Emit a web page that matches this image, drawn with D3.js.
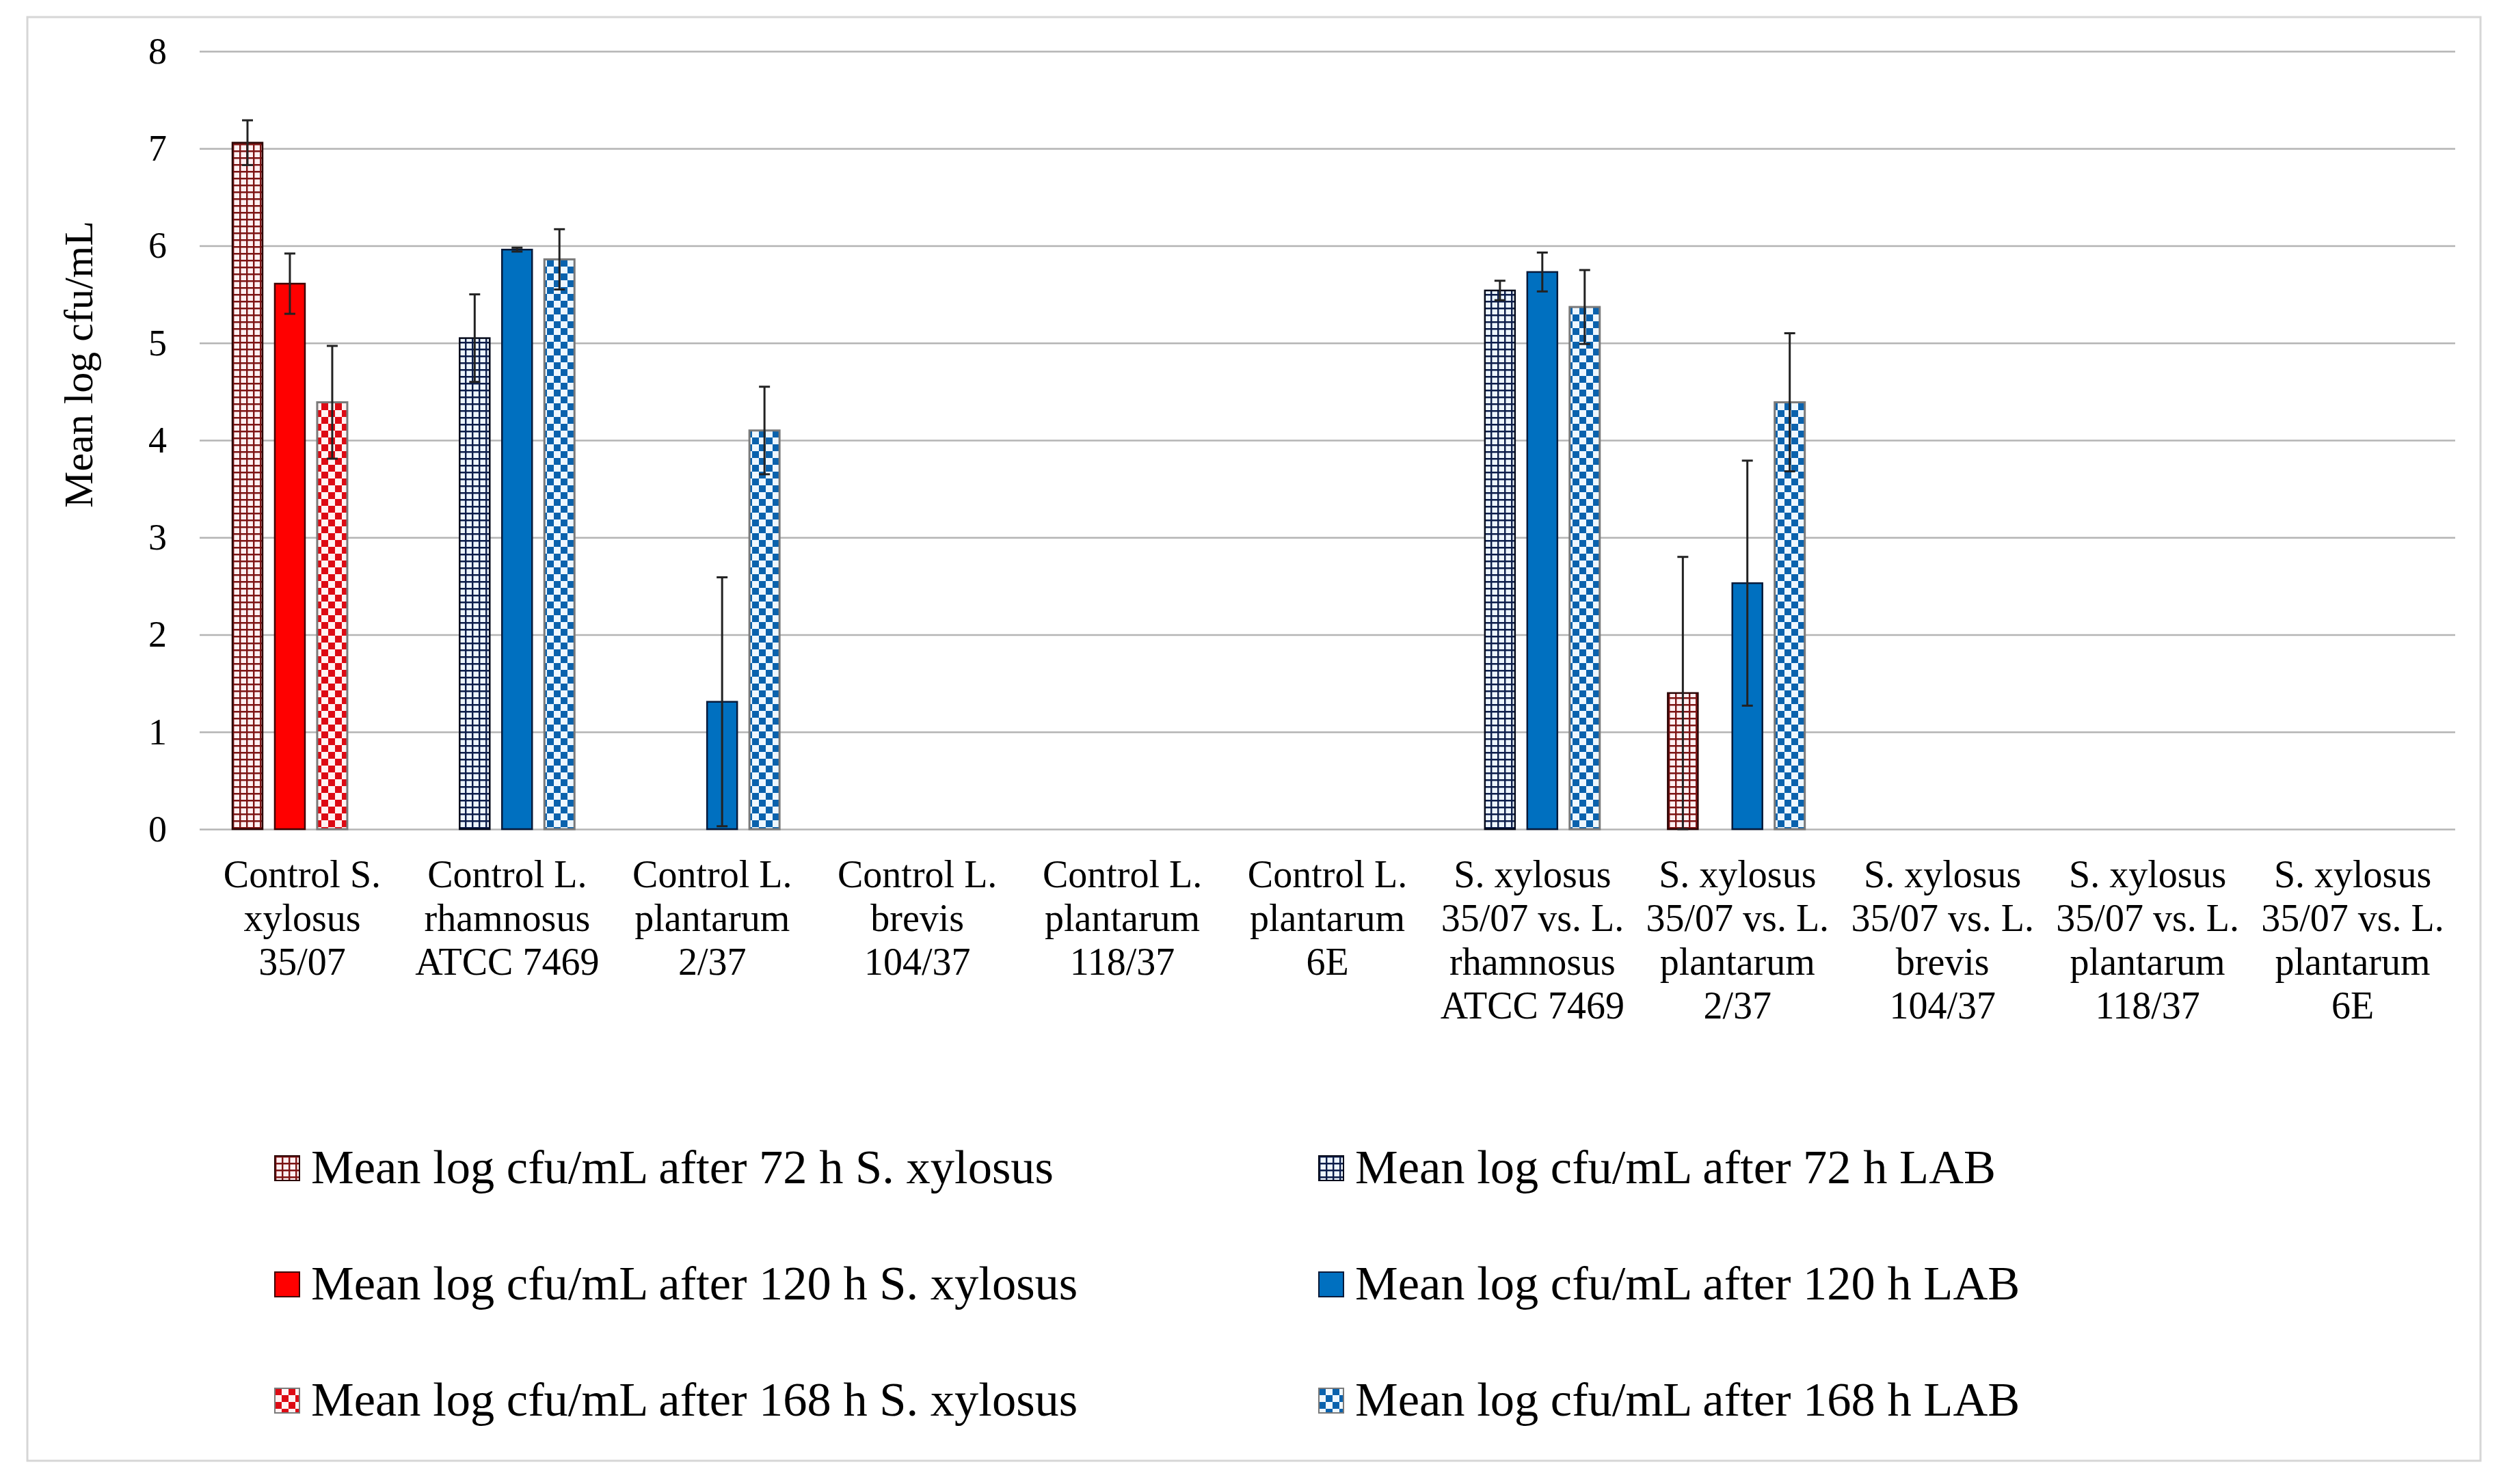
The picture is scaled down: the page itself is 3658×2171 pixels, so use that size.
<!DOCTYPE html>
<html>
<head>
<meta charset="utf-8">
<script src="https://cdn.jsdelivr.net/npm/d3@7"></script>
<style>
    body { margin: 0; background: #fff; }
    svg { display: block; }
    text { font-family: "Liberation Serif", "Times New Roman", serif; fill: #000; }
</style>
</head>
<body>
<div id="chart"></div>
<script>
// categories (one entry per line of the tick label)
var categories = [
    ['Control S.', 'xylosus', '35/07'],
    ['Control L.', 'rhamnosus', 'ATCC 7469'],
    ['Control L.', 'plantarum', '2/37'],
    ['Control L.', 'brevis', '104/37'],
    ['Control L.', 'plantarum', '118/37'],
    ['Control L.', 'plantarum', '6E'],
    ['S. xylosus', '35/07 vs. L.', 'rhamnosus', 'ATCC 7469'],
    ['S. xylosus', '35/07 vs. L.', 'plantarum', '2/37'],
    ['S. xylosus', '35/07 vs. L.', 'brevis', '104/37'],
    ['S. xylosus', '35/07 vs. L.', 'plantarum', '118/37'],
    ['S. xylosus', '35/07 vs. L.', 'plantarum', '6E']
]
var times = ['72 h', '120 h', '168 h']
var yTicks = [0, 1, 2, 3, 4, 5, 6, 7, 8]

// S. xylosus counts
var sx72 = [7.06, null, null, null, null, null, null, 1.40, null, null, null]
var sx72Err = [0.23, null, null, null, null, null, null, 1.40, null, null, null]
var sx120 = [5.61, null, null, null, null, null, null, null, null, null, null]
var sx120Err = [0.31, null, null, null, null, null, null, null, null, null, null]
var sx168 = [4.39, null, null, null, null, null, null, null, null, null, null]
var sx168Err = [0.58, null, null, null, null, null, null, null, null, null, null]

// LAB counts
var lab72 = [null, 5.05, null, null, null, null, 5.54, null, null, null, null]
var lab72Err = [null, 0.45, null, null, null, null, 0.10, null, null, null, null]
var lab120 = [null, 5.96, 1.31, null, null, null, 5.73, 2.53, null, null, null]
var lab120Err = [null, 0.02, 1.28, null, null, null, 0.20, 1.26, null, null, null]
var lab168 = [null, 5.86, 4.10, null, null, null, 5.37, 4.39, null, null, null]
var lab168Err = [null, 0.31, 0.45, null, null, null, 0.38, 0.71, null, null, null]

var legendLabels = [
    'Mean log cfu/mL after 72 h S. xylosus',
    'Mean log cfu/mL after 120 h S. xylosus',
    'Mean log cfu/mL after 168 h S. xylosus',
    'Mean log cfu/mL after 72 h LAB',
    'Mean log cfu/mL after 120 h LAB',
    'Mean log cfu/mL after 168 h LAB'
]

var series = [
    { name: legendLabels[0], org: 'sx', time: times[0], values: sx72, errors: sx72Err, fill: 'url(#gridRed)', stroke: '#2a0404', sw: 2.5 },
    { name: legendLabels[1], org: 'sx', time: times[1], values: sx120, errors: sx120Err, fill: '#ff0000', stroke: '#3d0000', sw: 2.5 },
    { name: legendLabels[2], org: 'sx', time: times[2], values: sx168, errors: sx168Err, fill: 'url(#checkRed)', stroke: '#7a7a7a', sw: 3 },
    { name: legendLabels[3], org: 'lab', time: times[0], values: lab72, errors: lab72Err, fill: 'url(#gridBlue)', stroke: '#050a1a', sw: 2.5 },
    { name: legendLabels[4], org: 'lab', time: times[1], values: lab120, errors: lab120Err, fill: '#0070c0', stroke: '#071a3a', sw: 2.5 },
    { name: legendLabels[5], org: 'lab', time: times[2], values: lab168, errors: lab168Err, fill: 'url(#checkBlue)', stroke: '#7a7a7a', sw: 3 }
]

var W = 3658,
    H = 2171,
    plotLeft = 292,
    plotRight = 3591,
    plotTop = 75,
    plotBottom = 1213

var svg = d3.select('#chart').append('svg').attr('width', W).attr('height', H)

// узоры заливки
var defs = svg.append('defs')
function addGrid(id, bg, line) {
    var p = defs.append('pattern').attr('id', id)
        .attr('patternUnits', 'userSpaceOnUse').attr('width', 10).attr('height', 10)
    p.append('rect').attr('width', 10).attr('height', 10).attr('fill', bg)
    p.append('path').attr('d', 'M0,1.2H10M1.2,0V10')
        .attr('stroke', line).attr('stroke-width', 2.4)
}
function addChecker(id, bg, sq) {
    var p = defs.append('pattern').attr('id', id)
        .attr('patternUnits', 'userSpaceOnUse').attr('width', 20).attr('height', 20)
    p.append('rect').attr('width', 20).attr('height', 20).attr('fill', bg)
    p.append('rect').attr('width', 10).attr('height', 10).attr('fill', sq)
    p.append('rect').attr('x', 10).attr('y', 10).attr('width', 10).attr('height', 10).attr('fill', sq)
}
addGrid('gridRed', '#fff0f2', '#7d1414')
addGrid('gridBlue', '#edf6ff', '#0c1d4a')
addChecker('checkRed', '#fff2f3', '#dd0a14')
addChecker('checkBlue', '#eef7ff', '#0a62ad')

// рамка
svg.append('rect')
    .attr('x', 40).attr('y', 25)
    .attr('width', 3588).attr('height', 2112)
    .attr('fill', 'none').attr('stroke', '#d6d6d6').attr('stroke-width', 3)

var x0 = d3.scaleBand().domain(d3.range(categories.length)).range([plotLeft, plotRight])
var xSub = d3.scaleBand().domain(times).range([0, x0.bandwidth() * 0.56]).paddingInner(0.29)
var shift = { sx: 0.16, lab: 0.268 }
var y = d3.scaleLinear().domain([0, 8]).range([plotBottom, plotTop])

// ось Y и сетка
var yAxis = svg.append('g')
    .attr('transform', 'translate(' + plotLeft + ',0)')
    .call(d3.axisLeft(y).tickValues(yTicks).tickSize(-(plotRight - plotLeft)).tickPadding(48))
yAxis.select('.domain').remove()
yAxis.selectAll('.tick line').attr('stroke', '#b4b4b4').attr('stroke-width', 2.5)
yAxis.selectAll('.tick text')
    .style('font-family', '"Liberation Serif", "Times New Roman", serif')
    .style('font-size', '54px').attr('fill', '#000')

svg.append('text')
    .attr('transform', 'translate(135,533) rotate(-90)')
    .attr('text-anchor', 'middle')
    .style('font-size', '60px')
    .text('Mean log cfu/mL')

// подписи категорий
var catLabels = svg.selectAll('text.cat')
    .data(categories)
    .enter()
    .append('text')
    .attr('class', 'cat')
    .attr('text-anchor', 'middle')
    .attr('y', 1298)
    .style('font-size', '56px')
catLabels.each(function (lines, i) {
    var cx = x0(i) + x0.bandwidth() / 2
    d3.select(this).selectAll('tspan')
        .data(lines)
        .enter()
        .append('tspan')
        .attr('x', cx)
        .attr('dy', function (d, j) { return j === 0 ? 0 : 64 })
        .text(function (d) { return d })
})

function barX(s, i) {
    return x0(i) + x0.bandwidth() * shift[s.org] + xSub(s.time)
}

// столбцы
series.forEach(function (s) {
    var pts = s.values
        .map(function (v, i) { return { i: i, v: v, e: s.errors[i] } })
        .filter(function (d) { return d.v !== null })

    svg.append('g').selectAll('rect')
        .data(pts)
        .enter()
        .append('rect')
        .attr('x', function (d) { return barX(s, d.i) })
        .attr('y', function (d) { return y(d.v) })
        .attr('width', xSub.bandwidth())
        .attr('height', function (d) { return y(0) - y(d.v) })
        .attr('fill', s.fill)
        .attr('stroke', s.stroke)
        .attr('stroke-width', s.sw)
})

// планки погрешностей
series.forEach(function (s) {
    var pts = s.values
        .map(function (v, i) { return { i: i, v: v, e: s.errors[i] } })
        .filter(function (d) { return d.v !== null && d.e !== null })
    var eb = svg.append('g').selectAll('g')
        .data(pts)
        .enter()
        .append('g')
        .attr('stroke', '#222')
        .attr('stroke-width', 3)
    var cx = function (d) { return barX(s, d.i) + xSub.bandwidth() / 2 }
    eb.append('line')
        .attr('x1', cx).attr('x2', cx)
        .attr('y1', function (d) { return y(d.v + d.e) })
        .attr('y2', function (d) { return y(Math.max(0, d.v - d.e)) })
    eb.append('line')
        .attr('x1', function (d) { return cx(d) - 8 }).attr('x2', function (d) { return cx(d) + 8 })
        .attr('y1', function (d) { return y(d.v + d.e) })
        .attr('y2', function (d) { return y(d.v + d.e) })
    eb.append('line')
        .attr('x1', function (d) { return cx(d) - 8 }).attr('x2', function (d) { return cx(d) + 8 })
        .attr('y1', function (d) { return y(Math.max(0, d.v - d.e)) })
        .attr('y2', function (d) { return y(Math.max(0, d.v - d.e)) })
})

// легенда
var legendCol = { sx: 402, lab: 1929 }
var legend = svg.selectAll('g.legend')
    .data(series)
    .enter()
    .append('g')
    .attr('class', 'legend')
    .attr('transform', function (d) {
        return 'translate(' + legendCol[d.org] + ',' + (1731 + times.indexOf(d.time) * 170) + ')'
    })
legend.append('rect')
    .attr('x', 0).attr('y', -40)
    .attr('width', 36).attr('height', 36)
    .attr('fill', function (d) { return d.fill })
    .attr('stroke', function (d) { return d.stroke })
    .attr('stroke-width', 2)
legend.append('text')
    .attr('x', 53)
    .style('font-size', '70.5px')
    .text(function (d) { return d.name })
</script>
</body>
</html>
